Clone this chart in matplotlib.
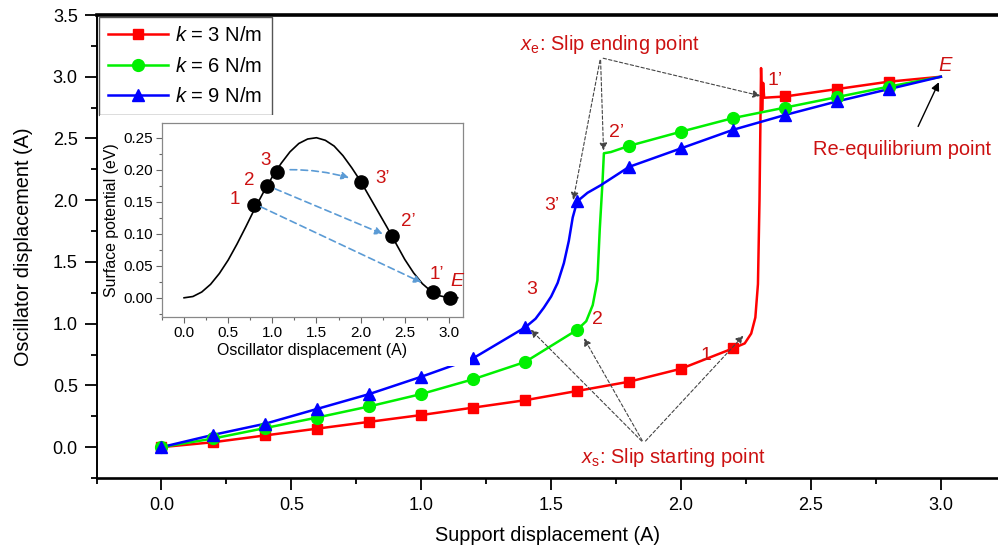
import matplotlib
matplotlib.use("Agg")
import matplotlib.pyplot as plt
from matplotlib.lines import Line2D
from matplotlib.patches import Rectangle
from matplotlib.ticker import MultipleLocator

plt.rcParams['font.family'] = ['Liberation Sans', 'DejaVu Sans']
plt.rcParams['mathtext.fontset'] = 'custom'
plt.rcParams['mathtext.rm'] = 'Liberation Sans'
plt.rcParams['mathtext.it'] = 'Liberation Sans:italic'

TXT_RED = "#cc1111"

# marker positions (support displacement, A)
x_marks = [0.0, 0.2, 0.4, 0.6, 0.8, 1.0, 1.2, 1.4, 1.6, 1.8, 2.0, 2.2, 2.4, 2.6, 2.8]
k3_marks = [0, 0.04, 0.095, 0.15, 0.205, 0.26, 0.32, 0.38, 0.455, 0.53, 0.635, 0.80, 2.84, 2.90, 2.96]
k6_marks = [0, 0.07, 0.155, 0.24, 0.33, 0.43, 0.55, 0.69, 0.95, 2.44, 2.555, 2.665, 2.75, 2.835, 2.92]
k9_marks = [0, 0.10, 0.19, 0.31, 0.43, 0.57, 0.72, 0.97, 1.99, 2.27, 2.42, 2.57, 2.69, 2.80, 2.90]
# common end point E (re-equilibrium)
x_end, y_end = 3.0, 3.0

# extra points read along the slip jumps
k3_jump_x = [2.245, 2.27, 2.286, 2.296, 2.302, 2.308, 2.312, 2.316, 2.32]
k3_jump_y = [0.84, 0.92, 1.05, 1.32, 2.0, 3.07, 2.73, 2.95, 2.83]
k6_jump_x = [1.635, 1.66, 1.678, 1.687, 1.698, 1.703, 1.73]
k6_jump_y = [1.02, 1.15, 1.35, 1.76, 2.16, 2.38, 2.39]
k9_jump_x = [1.44, 1.472, 1.50, 1.525, 1.549, 1.568, 1.583, 1.64, 1.69]
k9_jump_y = [1.04, 1.13, 1.22, 1.33, 1.49, 1.67, 1.86, 2.06, 2.12]

# inset: surface potential
pot_x = [0.0, 0.1, 0.2, 0.3, 0.4, 0.5, 0.6, 0.7, 0.8, 0.9, 1.0, 1.1, 1.2, 1.3, 1.4, 1.5,
         1.6, 1.7, 1.8, 1.9, 2.0, 2.1, 2.2, 2.3, 2.4, 2.5, 2.6, 2.7, 2.8, 2.9, 3.0, 3.1]
pot_y = [0.000, 0.002, 0.009, 0.021, 0.038, 0.059, 0.084, 0.111, 0.139, 0.165, 0.189, 0.210,
         0.228, 0.241, 0.248, 0.250, 0.246, 0.237, 0.222, 0.203, 0.182, 0.158, 0.134, 0.110,
         0.085, 0.060, 0.039, 0.022, 0.010, 0.003, 0.000, 0.000]
dot_x = [0.79, 0.94, 1.05, 2.0, 2.36, 2.82, 3.01]
dot_y = [0.145, 0.175, 0.197, 0.181, 0.097, 0.0094, 0.0]


def merge(xm, ym, xj, yj):
    pts = sorted(list(zip(xm, ym)) + list(zip(xj, yj)) + [(x_end, y_end)])
    return [p[0] for p in pts], [p[1] for p in pts]


fig = plt.figure(figsize=(9.98, 5.52), dpi=100)
ax = fig.add_axes([96.5 / 998, 1 - 478 / 552, 1 - 96.5 / 998, (478 - 15) / 552])

series = [
    ("$k$ = 3 N/m", "#ff0000", "s", 7.5, k3_marks, k3_jump_x, k3_jump_y),
    ("$k$ = 6 N/m", "#00f000", "o", 8.5, k6_marks, k6_jump_x, k6_jump_y),
    ("$k$ = 9 N/m", "#0000ff", "^", 9, k9_marks, k9_jump_x, k9_jump_y),
]
handles = []
for label, col, mk, ms, ym, xj, yj in series:
    cx, cy = merge(x_marks, ym, xj, yj)
    ax.plot(cx, cy, color=col, lw=1.8, zorder=3)
    ax.plot(x_marks, ym, ls="none", marker=mk, ms=ms, color=col, zorder=4)
    handles.append(Line2D([], [], color=col, lw=1.8, marker=mk, ms=ms, label=label))

ax.set_xlim(-0.25, 3.22)
ax.set_ylim(-0.25, 3.5)
ax.xaxis.set_major_locator(MultipleLocator(0.5))
ax.xaxis.set_minor_locator(MultipleLocator(0.25))
ax.yaxis.set_major_locator(MultipleLocator(0.5))
ax.yaxis.set_minor_locator(MultipleLocator(0.25))
ax.tick_params(which="major", direction="out", length=8.5, width=1.3, labelsize=13, pad=5)
ax.tick_params(which="minor", direction="out", length=4.5, width=1.3)
ax.spines["right"].set_visible(False)
ax.spines["top"].set_linewidth(2.6)
ax.spines["bottom"].set_linewidth(1.9)
ax.spines["left"].set_linewidth(1.4)
ax.set_xlabel("Support displacement (A)", fontsize=14.3, labelpad=9)
ax.set_ylabel("Oscillator displacement (A)", fontsize=14.3, labelpad=14)

leg = ax.legend(handles=handles, loc="upper left", fontsize=14.5, handlelength=3.0,
                handletextpad=0.35, borderaxespad=0.12, framealpha=1, fancybox=False,
                edgecolor="#555555", labelspacing=0.55, borderpad=0.45)
leg.get_frame().set_linewidth(1.0)

# annotations
dash = dict(arrowstyle="-|>", color="#444444", lw=0.8, linestyle=(0, (3, 2)), mutation_scale=11)
ax.text(1.379, 3.26, "$x_\\mathrm{e}$: Slip ending point", color=TXT_RED, fontsize=14.4,
        ha="left", va="center")
for tx, ty in [(2.316, 2.84), (1.702, 2.38), (1.583, 1.98)]:
    ax.annotate("", xy=(tx, ty), xytext=(1.69, 3.155), arrowprops=dash, zorder=5)
ax.text(1.614, -0.085, "$x_\\mathrm{s}$: Slip starting point", color=TXT_RED, fontsize=14.4,
        ha="left", va="center")
for tx, ty in [(1.414, 0.967), (1.621, 0.902), (2.247, 0.919)]:
    ax.annotate("", xy=(tx, ty), xytext=(1.856, 0.033), arrowprops=dash, zorder=5)
ax.text(2.85, 2.41, "Re-equilibrium point", color=TXT_RED, fontsize=14.4, ha="center", va="center")
ax.annotate("", xy=(2.997, 2.976), xytext=(2.908, 2.577),
            arrowprops=dict(arrowstyle="-|>", color="black", lw=1.0, mutation_scale=12))

for s, px, py in [("1\u2019", 2.363, 2.97), ("2\u2019", 1.752, 2.55), ("3\u2019", 1.502, 1.96),
                  ("3", 1.425, 1.28), ("2", 1.679, 1.03), ("1", 2.094, 0.74)]:
    ax.text(px, py, s, color=TXT_RED, fontsize=14, ha="center", va="center")
ax.text(3.015, 3.09, "E", color=TXT_RED, fontsize=14.5, style="italic", ha="center", va="center")

# white backing of the inset picture
fig.patches.append(Rectangle((100 / 998, 1 - 366 / 552), 370 / 998, (366 - 115) / 552,
                             transform=fig.transFigure, facecolor="white", edgecolor="none",
                             zorder=1))

ins = fig.add_axes([162 / 998, 1 - 317 / 552, 301 / 998, 194 / 552], zorder=2)
ins.plot(pot_x, pot_y, color="black", lw=1.2)
ins.plot(dot_x, dot_y, ls="none", marker="o", ms=9.5, color="black")
ins.set_xlim(-0.25, 3.16)
ins.set_ylim(-0.03, 0.273)
ins.xaxis.set_major_locator(MultipleLocator(0.5))
ins.xaxis.set_minor_locator(MultipleLocator(0.25))
ins.yaxis.set_major_locator(MultipleLocator(0.05))
ins.yaxis.set_minor_locator(MultipleLocator(0.025))
ins.yaxis.set_major_formatter(plt.FormatStrFormatter("%.2f"))
ins.tick_params(which="major", direction="out", length=4, width=0.8, labelsize=11, pad=2.5,
                color="#666666")
ins.tick_params(which="minor", direction="out", length=2, width=0.8, color="#666666")
for sp in ins.spines.values():
    sp.set_color("#888888")
    sp.set_linewidth(0.9)
ins.set_xlabel("Oscillator displacement (A)", fontsize=11.4, labelpad=2)
ins.set_ylabel("Surface potential (eV)", fontsize=11.4, labelpad=3)

arr = dict(arrowstyle="-|>", color="#5b9bd5", lw=1.2, linestyle=(0, (4, 2.5)), mutation_scale=11)
ins.annotate("", xy=(1.9, 0.186), xytext=(1.17, 0.2),
             arrowprops=dict(arr, connectionstyle="arc3,rad=-0.08"))
ins.annotate("", xy=(2.28, 0.098), xytext=(1.0, 0.172), arrowprops=arr)
ins.annotate("", xy=(2.72, 0.022), xytext=(0.84, 0.144), arrowprops=arr)
for s, px, py in [("1", 0.58, 0.153), ("2", 0.74, 0.183), ("3", 0.92, 0.214),
                  ("3\u2019", 2.25, 0.187), ("2\u2019", 2.54, 0.119), ("1\u2019", 2.86, 0.036)]:
    ins.text(px, py, s, color=TXT_RED, fontsize=13.5, ha="center", va="center")
ins.text(3.09, 0.025, "E", color=TXT_RED, fontsize=14, style="italic", ha="center", va="center")

fig.savefig("out.png", dpi=100)
